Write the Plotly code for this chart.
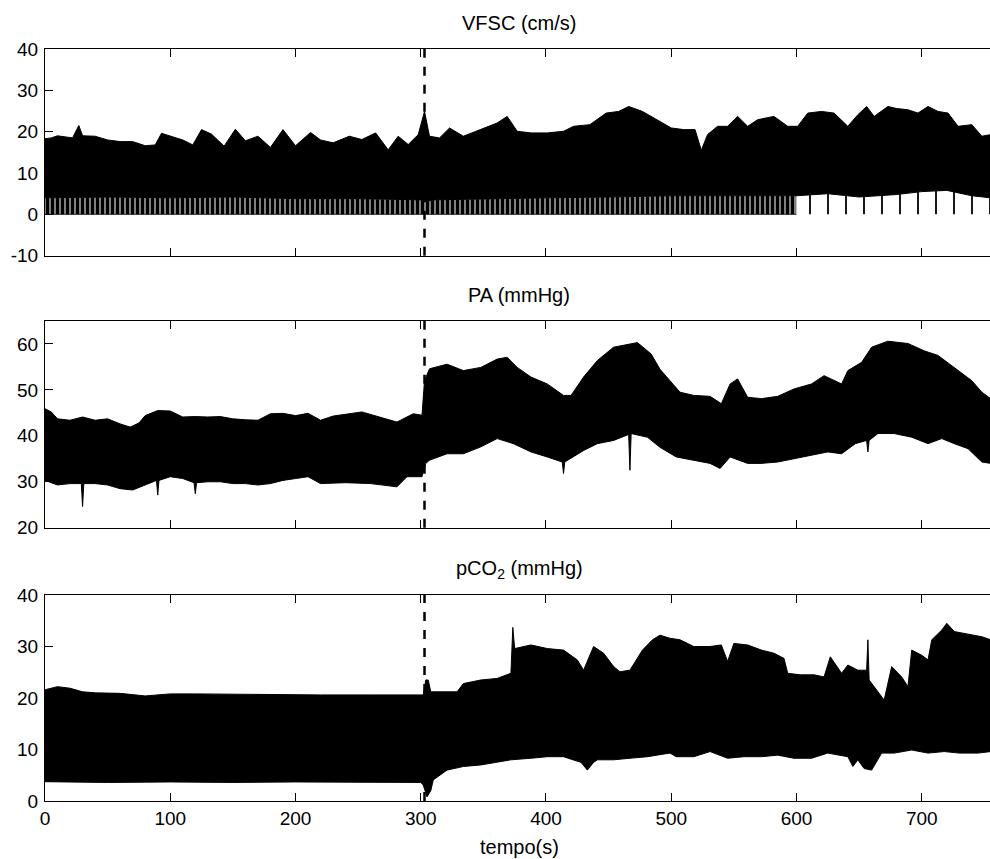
import plotly.graph_objects as go

# ---------------- data ----------------
# VFSC (cm/s): upper envelope, lower edge of the dense band, and where beats fall to 0
vfsc_up_t = [0, 5, 10, 17, 22, 27, 30, 40, 50, 60, 70, 80, 88, 93, 100, 110, 118, 125, 133, 143,
             152, 160, 170, 180, 190, 200, 212, 220, 230, 243, 253, 264, 274, 282, 290, 298, 303,
             307, 315, 323, 334, 348, 361, 369, 377, 388, 401, 414, 422, 435, 448, 458, 466, 477,
             488, 500, 510, 519, 524, 529, 537, 545, 553, 561, 569, 582, 593, 601, 609, 620, 630,
             641, 649, 656, 662, 673, 680, 689, 697, 705, 713, 721, 729, 740, 748, 755]
vfsc_up = [18.3, 18.5, 19.0, 18.8, 18.5, 21.5, 19.0, 18.9, 18.0, 17.6, 17.6, 16.6, 16.8, 19.6, 19.0,
           18.0, 16.8, 20.5, 19.4, 16.5, 20.6, 17.8, 18.9, 16.2, 20.5, 16.6, 19.8, 18.0, 17.3, 18.9,
           18.1, 19.7, 15.6, 18.9, 16.9, 19.3, 24.9, 18.9, 18.5, 20.9, 18.9, 20.5, 22.1, 23.7, 20.1,
           19.7, 19.7, 20.1, 21.3, 21.7, 24.5, 24.9, 26.1, 24.9, 22.9, 20.9, 20.5, 20.5, 15.5, 19.3,
           21.3, 21.3, 23.7, 21.3, 22.9, 23.7, 21.3, 21.3, 24.5, 24.9, 24.5, 21.3, 24.1, 26.1, 23.7,
           26.1, 25.6, 25.3, 24.5, 26.1, 24.9, 24.5, 21.3, 21.7, 18.9, 19.3]
vfsc_lo_t = [0, 50, 100, 150, 200, 250, 300, 303, 310, 350, 400, 450, 500, 550, 600, 625, 650, 680,
             700, 720, 740, 755]
vfsc_lo = [4.0, 4.2, 4.0, 4.2, 3.8, 3.8, 3.5, 3.0, 3.5, 3.8, 4.0, 4.2, 4.5, 4.5, 4.5, 5.0, 4.2, 4.8,
           5.5, 5.8, 4.5, 4.0]
vfsc_floor = 0.0

# PA (mmHg)
pa_up_t = [0, 5, 10, 20, 30, 40, 50, 60, 68, 75, 80, 90, 100, 110, 120, 130, 140, 150, 160, 170, 180,
           190, 200, 210, 220, 230, 253, 266, 281, 294, 301, 303, 307, 321, 334, 348, 361, 369, 377,
           388, 401, 414, 420, 430, 441, 454, 468, 473, 484, 491, 499, 507, 518, 531, 540, 547, 553,
           561, 572, 585, 598, 612, 622, 636, 641, 652, 660, 673, 689, 702, 713, 726, 740, 748, 755]
pa_up = [45.9, 45.2, 43.7, 43.4, 44.1, 43.4, 43.7, 42.6, 41.9, 42.8, 44.4, 45.5, 45.4, 44.1, 44.2,
         44.1, 44.2, 43.7, 43.5, 43.4, 44.8, 44.9, 44.4, 44.9, 43.4, 44.3, 45.2, 44.1, 43.0, 44.8,
         44.5, 52.0, 54.6, 55.6, 54.2, 54.9, 56.7, 57.1, 54.9, 52.8, 51.3, 48.8, 48.8, 52.8, 56.4,
         59.3, 60.0, 60.3, 57.8, 54.5, 52.0, 49.5, 48.8, 48.6, 47.0, 51.3, 52.4, 48.4, 48.1, 48.6,
         50.2, 51.3, 53.1, 51.3, 54.2, 56.0, 59.3, 60.6, 60.1, 58.5, 57.5, 54.9, 52.0, 49.5, 48.1]
pa_lo_t = [0, 10, 20, 29, 30, 31, 40, 50, 60, 70, 80, 89, 90, 91, 100, 110, 119, 120, 121, 130, 140,
           150, 160, 170, 180, 190, 200, 210, 220, 240, 260, 281, 289, 301, 304, 307, 321, 334, 348,
           361, 374, 388, 401, 413, 414, 415, 430, 441, 454, 466, 467, 468, 481, 491, 504, 518, 531,
           539, 547, 561, 572, 585, 598, 612, 625, 636, 647, 656, 657, 658, 665, 678, 692, 705, 716,
           726, 737, 748, 755]
pa_lo = [30.3, 29.3, 29.6, 29.6, 24.6, 29.6, 29.6, 29.3, 28.5, 28.2, 29.3, 30.3, 27.1, 30.3, 31.1,
         30.7, 29.8, 27.4, 29.8, 30.0, 30.0, 29.6, 29.6, 29.3, 29.6, 30.3, 30.7, 31.1, 29.6, 29.8,
         29.6, 28.9, 31.1, 31.1, 34.0, 34.7, 36.1, 36.1, 37.6, 39.4, 38.3, 36.5, 35.4, 34.3, 31.8,
         34.3, 36.8, 38.3, 39.0, 40.3, 32.5, 40.5, 39.7, 37.5, 35.4, 34.7, 34.0, 32.9, 35.4, 34.0,
         34.0, 34.3, 35.0, 35.8, 36.5, 36.1, 38.3, 39.0, 36.5, 39.0, 40.5, 40.5, 39.7, 38.3, 39.4,
         38.3, 37.2, 34.3, 34.0]

# pCO2 (mmHg)
pco2_up_t = [0, 10, 20, 30, 40, 60, 80, 100, 120, 150, 180, 220, 260, 302, 304, 306, 308, 329, 334,
             348, 361, 372, 373.5, 375, 388, 401, 414, 425, 430, 438, 446, 454, 459, 467, 477, 485,
             491, 499, 507, 518, 531, 540, 545, 550, 561, 572, 582, 590, 593, 603, 614, 622, 627,
             636, 641, 649, 656, 657, 658, 665, 670, 676, 684, 689, 692, 700, 705, 708, 716, 720,
             726, 737, 748, 755]
pco2_up = [21.6, 22.2, 21.9, 21.2, 21.0, 20.9, 20.4, 20.8, 20.8, 20.7, 20.6, 20.6, 20.6, 20.6, 23.5,
           23.5, 21.2, 21.2, 22.8, 23.5, 23.8, 24.8, 33.7, 29.6, 30.3, 29.6, 29.3, 27.4, 25.4, 30.0,
           28.7, 26.1, 25.1, 25.4, 29.3, 31.3, 32.2, 31.6, 31.3, 30.0, 30.0, 30.3, 27.1, 30.6, 30.3,
           29.3, 28.7, 27.7, 24.8, 24.5, 24.5, 24.1, 28.0, 24.8, 26.4, 25.4, 25.4, 31.3, 23.5, 21.2,
           19.6, 26.1, 24.1, 22.2, 29.3, 28.3, 27.4, 31.3, 33.2, 34.5, 32.9, 32.4, 31.9, 31.3]
pco2_lo_t = [0, 50, 100, 150, 200, 250, 300, 302, 305, 308, 310, 321, 334, 348, 361, 372, 388, 401,
             414, 428, 433, 438, 441, 454, 467, 481, 491, 499, 504, 518, 531, 545, 558, 572, 585,
             598, 612, 625, 641, 645, 649, 654, 660, 668, 678, 692, 705, 718, 730, 745, 755]
pco2_lo = [3.75, 3.6, 3.7, 3.6, 3.7, 3.7, 3.6, 3.1, 0.8, 2.0, 4.1, 6.0, 6.7, 7.0, 7.6, 8.0, 8.3, 8.6,
           8.6, 7.5, 6.0, 7.5, 8.0, 8.0, 8.3, 8.6, 9.0, 9.3, 8.6, 8.6, 9.6, 8.3, 8.6, 8.6, 8.9, 8.3,
           8.3, 9.3, 8.6, 6.7, 8.0, 6.3, 6.0, 9.3, 9.3, 9.9, 9.3, 9.6, 9.3, 9.3, 9.6]

titles = ["VFSC (cm/s)", "PA (mmHg)", "pCO<sub>2</sub> (mmHg)"]
x_label = "tempo(s)"
x_ticks = [0, 100, 200, 300, 400, 500, 600, 700]
y_ranges = [[-10, 40], [20, 65], [0, 40]]
y_ticks = [[-10, 0, 10, 20, 30, 40], [20, 30, 40, 50, 60], [0, 10, 20, 30, 40]]
y_ticktext = [["-10", "0", "10", "20", "30", "40"], ["20", "30", "40", "50", "60"],
              ["0", "10", "20", "30", "40"]]
event_t = 303
x_range = [0, 754.5]

# ---------------- figure ----------------
W, H = 990, 859
FONT = "Liberation Sans, Arial, Helvetica, sans-serif"
axes_px = [(49, 255.7), (321, 527.7), (595, 801)]   # top, bottom in px
domains = [[1 - b / H, 1 - t / H] for t, b in axes_px]

fig = go.Figure()

def band(xa, ya, lo_t, lo, up_t, up):
    fig.add_trace(go.Scatter(x=lo_t, y=lo, mode="lines", line=dict(color="black", width=1),
                             xaxis=xa, yaxis=ya, showlegend=False, hoverinfo="skip"))
    fig.add_trace(go.Scatter(x=up_t, y=up, mode="lines", line=dict(color="black", width=1),
                             fill="tonexty", fillcolor="black",
                             xaxis=xa, yaxis=ya, showlegend=False, hoverinfo="skip"))

def stripes(xa, ya, t0, t1, size, solidity):
    seg = [(t, v) for t, v in zip(vfsc_lo_t, vfsc_lo) if t0 <= t <= t1]
    ts = [s[0] for s in seg]
    vs = [s[1] for s in seg]
    fig.add_trace(go.Scatter(x=ts, y=[vfsc_floor] * len(ts), mode="lines",
                             line=dict(color="black", width=0.8 if solidity > 0.4 else 0),
                             xaxis=xa, yaxis=ya, showlegend=False, hoverinfo="skip"))
    fig.add_trace(go.Scatter(x=ts, y=vs, mode="lines", line=dict(width=0),
                             fill="tonexty", fillcolor="white",
                             fillpattern=dict(shape="|", size=size, solidity=solidity,
                                              fgcolor="black", bgcolor="white", fillmode="replace"),
                             xaxis=xa, yaxis=ya, showlegend=False, hoverinfo="skip"))

# VFSC
stripes("x", "y", 0, 600, 5, 0.8)
stripes("x", "y", 600, 755, 18, 0.1)
band("x", "y", vfsc_lo_t, vfsc_lo, vfsc_up_t, vfsc_up)
# PA
band("x2", "y2", pa_lo_t, pa_lo, pa_up_t, pa_up)
# pCO2
band("x3", "y3", pco2_lo_t, pco2_lo, pco2_up_t, pco2_up)

tickfont = dict(family=FONT, size=19, color="black")
layout = dict(width=W, height=H, margin=dict(l=45, r=0, t=0, b=0, autoexpand=False),
              paper_bgcolor="white", plot_bgcolor="white", showlegend=False)
shapes, annotations = [], []
for i in range(3):
    sx = "" if i == 0 else str(i + 1)
    layout["xaxis" + sx] = dict(domain=[0, 1], anchor="y" + sx, range=x_range, tickvals=x_ticks,
                                ticks="inside", ticklen=8, tickcolor="black", tickwidth=1,
                                showline=True, linecolor="black", linewidth=1, mirror="ticks",
                                showgrid=False, zeroline=False, showticklabels=(i == 2),
                                tickfont=tickfont, automargin=False)
    layout["yaxis" + sx] = dict(domain=domains[i], anchor="x" + sx, range=y_ranges[i],
                                tickvals=y_ticks[i], ticktext=y_ticktext[i], ticks="inside",
                                ticklen=8, tickcolor="black",
                                tickwidth=1, showline=True, linecolor="black", linewidth=1,
                                showgrid=False, zeroline=False, tickfont=tickfont,
                                ticklabelstandoff=2, automargin=False)
    shapes.append(dict(type="line", xref="x" + sx, yref="y" + sx + " domain", x0=event_t, x1=event_t,
                       y0=0, y1=1, line=dict(color="black", width=2.5, dash="dash")))
    annotations.append(dict(text=titles[i], xref="x" + sx, yref="paper", x=378.5,
                            y=1 - (axes_px[i][0] - 26) / H, yanchor="middle", showarrow=False,
                            font=dict(family=FONT, size=20, color="black")))
annotations.append(dict(text=x_label, xref="x3", yref="paper", x=378.5, y=1 - 847 / H,
                        yanchor="middle", showarrow=False,
                        font=dict(family=FONT, size=20, color="black")))
layout["shapes"] = shapes
layout["annotations"] = annotations
fig.update_layout(**layout)

fig.write_html("out.html", config={"displayModeBar": False},
               post_script="document.body.style.margin='0px';document.body.style.overflow='hidden';")
